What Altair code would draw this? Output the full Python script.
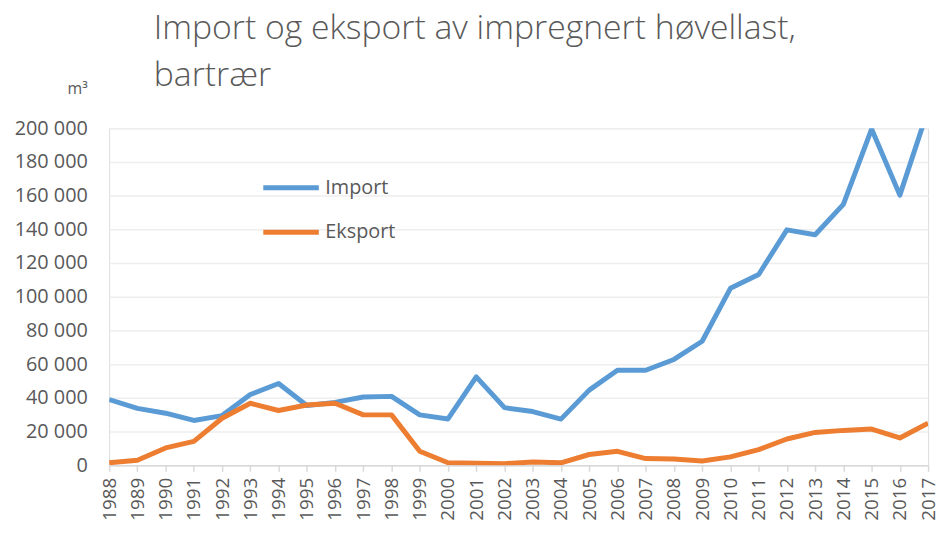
import altair as alt
import pandas as pd

years = list(range(1988, 2018))
import_vals = [39000, 33800, 30900, 26600, 29500, 42000, 48500, 35500, 37300, 40500,
               40900, 29900, 27500, 52500, 34200, 31900, 27400, 44600, 56400, 56400,
               62800, 73600, 105000, 113200, 139700, 136800, 154800, 199500, 160300, 211000]
export_vals = [1500, 3000, 10300, 14200, 27900, 36800, 32500, 35800, 36800, 29900,
               29900, 8300, 1500, 1200, 1000, 2000, 1500, 6400, 8300, 4000,
               3700, 2500, 5000, 9300, 15600, 19500, 20700, 21500, 16200, 25000]
series_names = ["Import", "Eksport"]
colors = ["#5B9BD5", "#ED7D31"]
y_ticks = list(range(0, 200001, 20000))

df = pd.DataFrame({
    "year": years + years,
    "value": import_vals + export_vals,
    "series": [series_names[0]] * len(years) + [series_names[1]] * len(years),
})

FONT = "Open Sans"
GRAY = "#595959"

base = alt.Chart(df).mark_line(strokeWidth=5, clip=True, strokeJoin="round").encode(
    x=alt.X("year:O", scale=alt.Scale(type="point", padding=0),
            axis=alt.Axis(title=None, labelAngle=-90, labelAlign="right", labelBaseline="middle",
                          labelFontSize=19, labelFont=FONT, labelColor=GRAY, labelPadding=6,
                          tickSize=6, tickColor="#d9d9d9", tickWidth=1.5,
                          domainColor="#d9d9d9", domainWidth=1.5, grid=False, labelOverlap=False)),
    y=alt.Y("value:Q", scale=alt.Scale(domain=[0, 200000], nice=False),
            axis=alt.Axis(values=y_ticks, ticks=False, tickSize=0, domain=False,
                          labelExpr="datum.value == 0 ? '0' : floor(datum.value/1000) + ' 000'",
                          labelFontSize=20, labelFont=FONT, labelColor=GRAY, labelPadding=22,
                          gridColor="#eeeeee", gridWidth=1.5,
                          title="m³", titleAngle=0, titleAlign="right", titleBaseline="alphabetic",
                          titleX=-22, titleY=-35, titleFontSize=16, titleFont=FONT,
                          titleFontWeight="normal", titleColor=GRAY)),
    color=alt.Color("series:N", scale=alt.Scale(domain=series_names, range=colors),
                    legend=alt.Legend(title=None, orient="none", legendX=153, legendY=40,
                                      symbolType="stroke", symbolSize=3136, symbolStrokeWidth=5,
                                      clipHeight=40, rowPadding=5, labelFontSize=20, labelFont=FONT,
                                      labelColor=GRAY, labelOffset=4, padding=0)),
)

imp = base.transform_filter(alt.datum.series == series_names[0])
exp = base.transform_filter(alt.datum.series == series_names[1])

chart = alt.layer(imp, exp).properties(
    width=826, height=340,
    title=alt.Title(["Import og eksport av impregnert høvellast,", "bartrær"],
                    anchor="start", frame="group", dx=45, dy=22, fontSize=34, font=FONT,
                    fontWeight=300, color=GRAY, lineHeight=47, offset=10),
    autosize=alt.AutoSizeParams(type="none"),
    padding={"left": 102, "top": 119, "right": 10, "bottom": 58},
).configure_view(stroke=None).configure(background="white")

chart.save("out.html", embed_options={"renderer": "svg", "actions": False})
